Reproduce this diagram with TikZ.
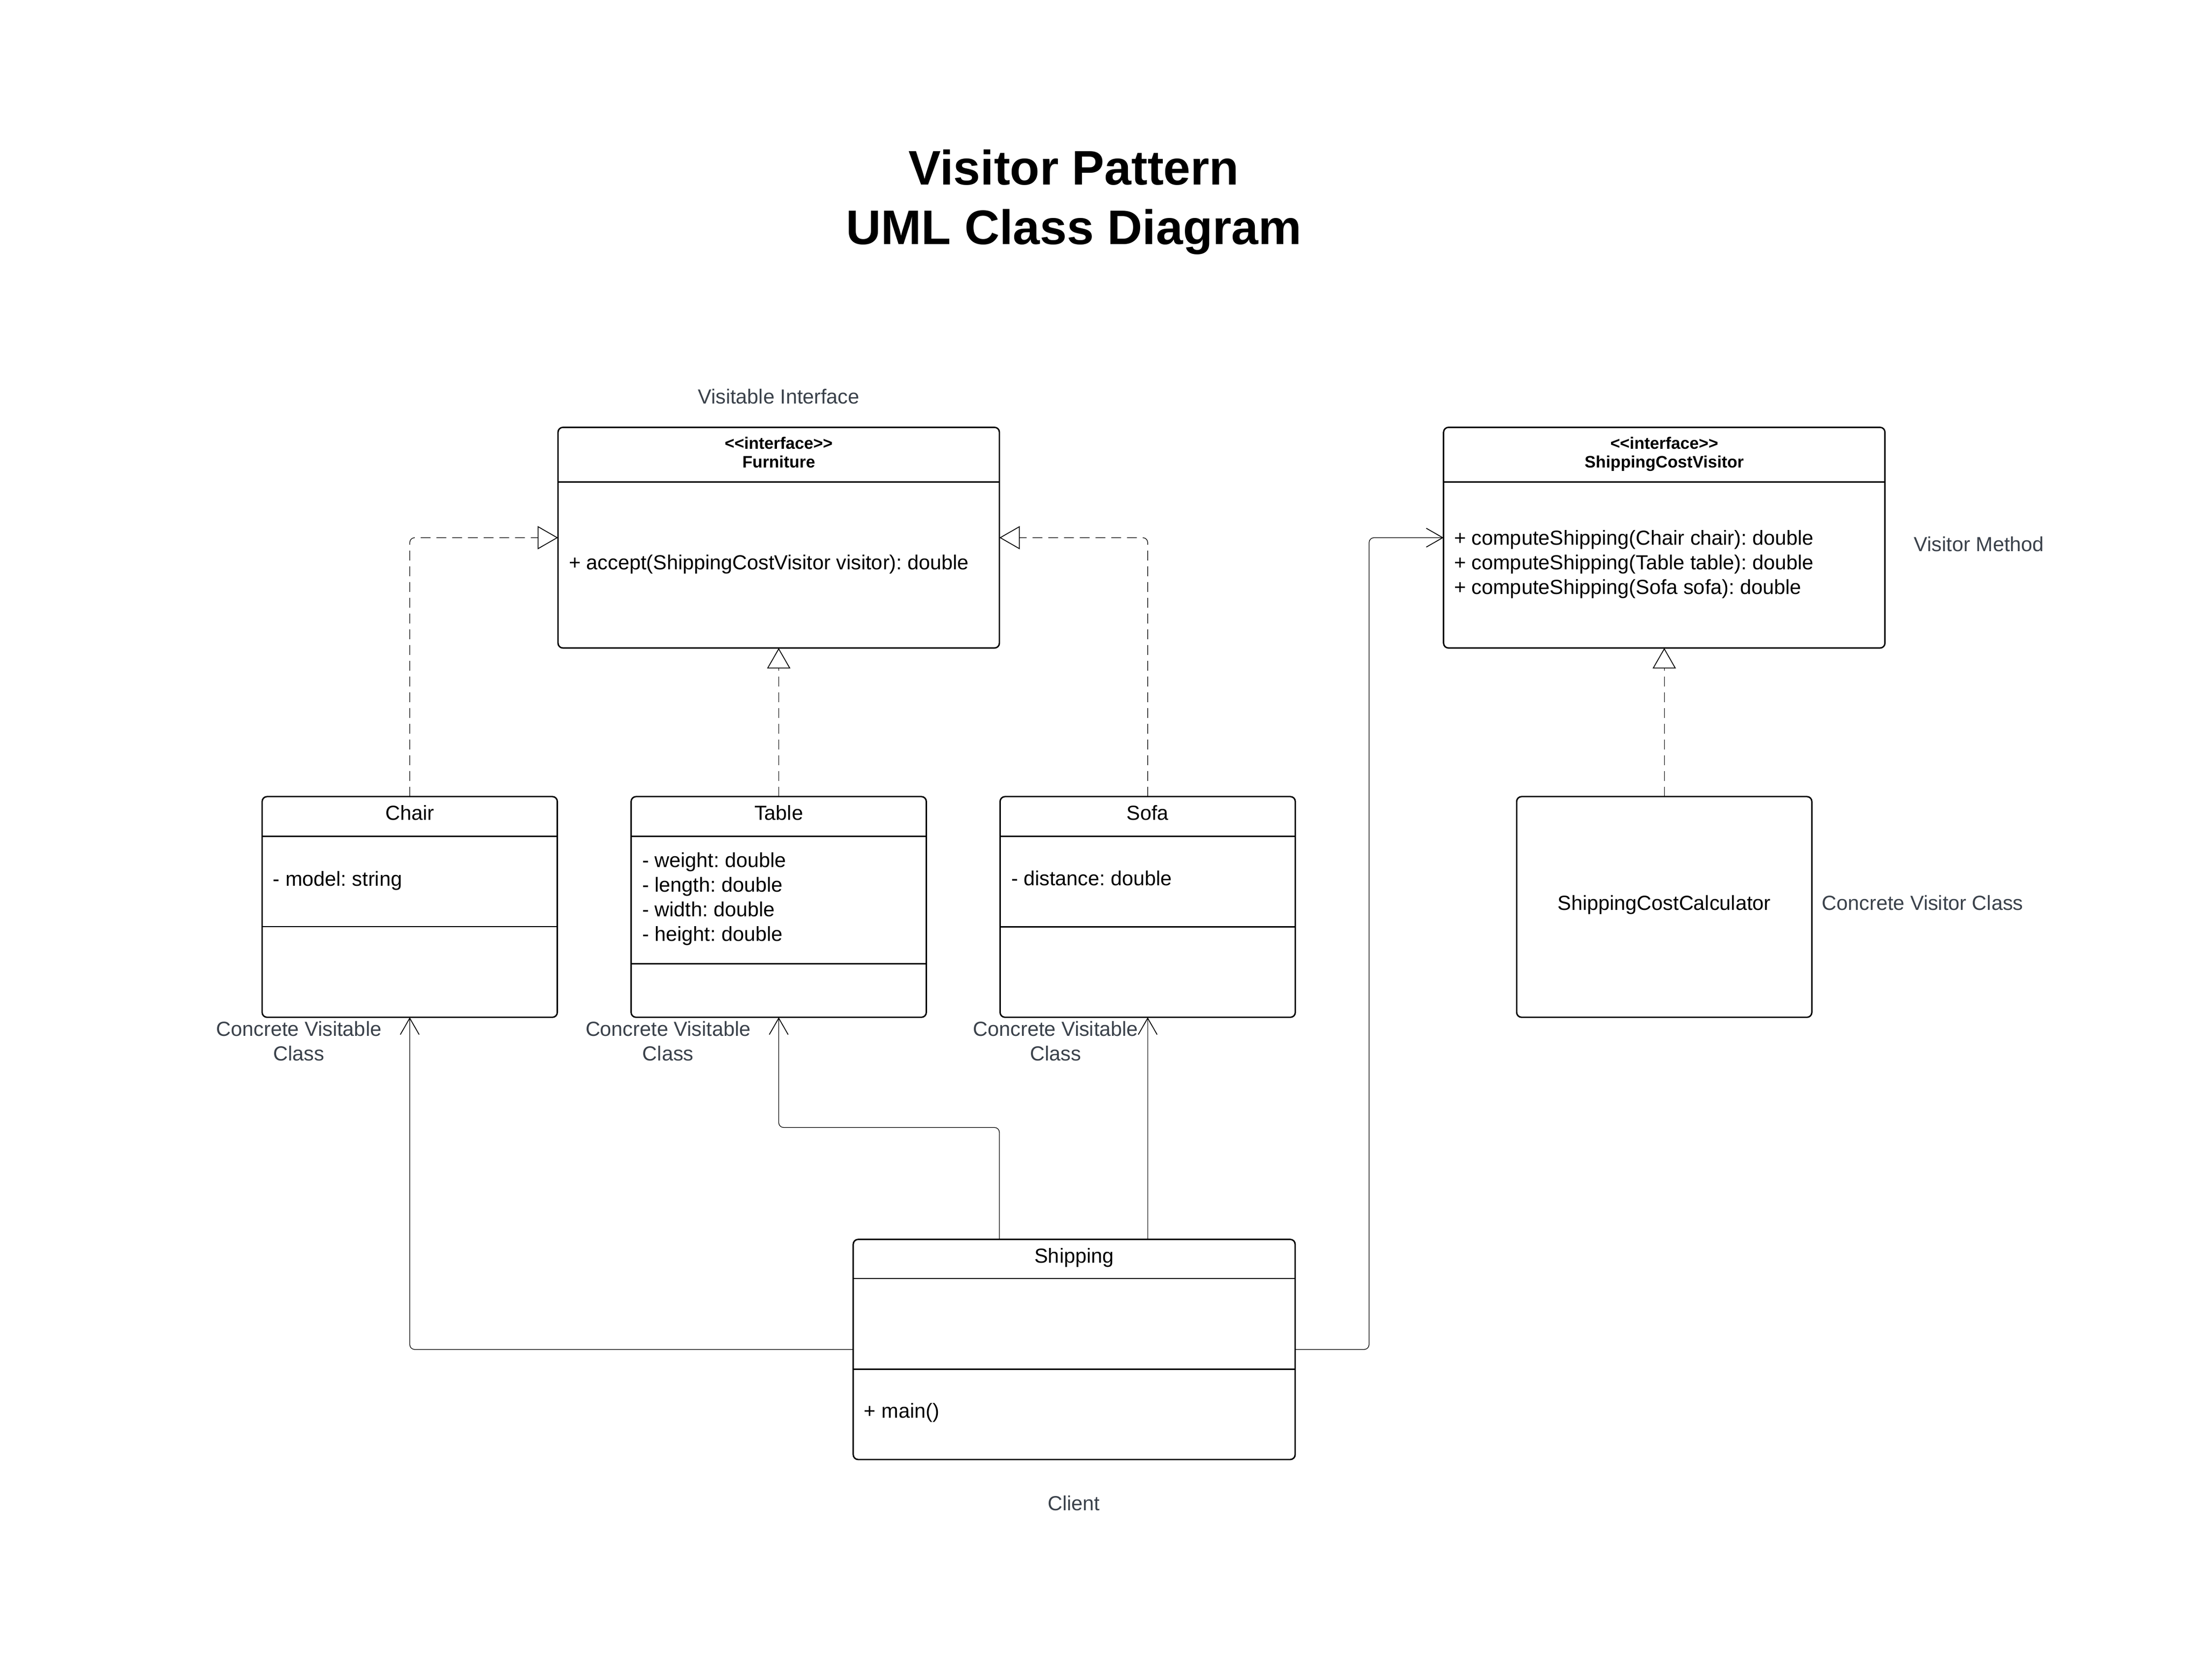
\documentclass[tikz,border=0pt]{standalone}
\usepackage{fontspec}
\setmainfont{Liberation Sans}
\usetikzlibrary{arrows.meta}
\definecolor{lblgray}{RGB}{58,65,74}
\frenchspacing
\begin{document}
\frenchspacing
\begin{tikzpicture}[x=1pt,y=-1pt,
  umlbox/.style={draw=black, line width=1pt, rounded corners=3.5pt, inner sep=0pt, outer sep=0pt, anchor=north west, fill=white},
  divider/.style={draw=black, line width=1pt},
  body/.style={font=\fontsize{14.5}{17.5}\selectfont, inner sep=0pt, text=black, yshift=0.7pt},
  hdr/.style={font=\bfseries\fontsize{11.8}{14}\selectfont, inner sep=0pt, text=black, yshift=0.5pt},
  lbl/.style={font=\fontsize{14.5}{17.5}\selectfont, inner sep=0pt, text=lblgray, yshift=0.7pt},
  ttl/.style={font=\bfseries\fontsize{34.5}{41}\selectfont, inner sep=0pt, text=black},
  conn/.style={draw=black, line width=0.45pt, rounded corners=3.5pt},
  realize/.style={conn, dash pattern=on 7pt off 4.2pt, -{Triangle[open, length=14.5pt, width=16.5pt, line width=0.6pt]}},
  assoc/.style={conn, -{Straight Barb[length=11.7pt, width=13.4pt, line width=0.6pt]}}
]
% page
\path[fill=white] (0,0) rectangle (1568,1195);
\useasboundingbox (0,0) rectangle (1568,1195);

% title
\node[ttl, anchor=base] (t1) at (764,131.5) {Visitor Pattern};
\node[ttl, anchor=base] (t2) at (764,173.8) {UML Class Diagram};

% Furniture interface
\node[umlbox, minimum width=314pt, minimum height=157pt] (furn) at (397,304) {};
\draw[divider] (397,343) -- (711,343);
\node[hdr, anchor=base] (furnst) at (554,319.9) {<\kern0pt<interface>\kern0pt>};
\node[hdr, anchor=base] (furnnm) at (554,333.4) {Furniture};
\node[body, anchor=base west] (furnm) at (404.5,405.8) {+ accept(ShippingCostVisitor visitor): double};
\node[lbl, anchor=base] (furnlbl) at (554,287.9) {Visitable Interface};

% ShippingCostVisitor interface
\node[umlbox, minimum width=314pt, minimum height=157pt] (scv) at (1027,304) {};
\draw[divider] (1027,343) -- (1341,343);
\node[hdr, anchor=base] (scvst) at (1184,319.9) {<\kern0pt<interface>\kern0pt>};
\node[hdr, anchor=base] (scvnm) at (1184,333.4) {ShippingCostVisitor};
\node[body, anchor=base west] (scvm1) at (1034.3,388.3) {+ computeShipping(Chair chair): double};
\node[body, anchor=base west] (scvm2) at (1034.3,405.8) {+ computeShipping(Table table): double};
\node[body, anchor=base west] (scvm3) at (1034.3,423.3) {+ computeShipping(Sofa sofa): double};
\node[lbl, anchor=base west] (scvlbl) at (1361.5,393) {Visitor Method};

% Chair
\node[umlbox, minimum width=210pt, minimum height=157pt] (chair) at (186.5,566.7) {};
\draw[divider] (186.5,594.8) -- (396.5,594.8);
\draw[divider] (186.5,659.2) -- (396.5,659.2);
\node[body, anchor=base] (chairnm) at (291.5,584.1) {Chair};
\node[body, anchor=base west] (chaira) at (194,631) {- model: string};
\node[lbl, anchor=base] (chairl1) at (212.7,737.8) {Concrete Visitable};
\node[lbl, anchor=base] (chairl2) at (212.7,755.2) {Class};

% Table
\node[umlbox, minimum width=210pt, minimum height=157pt] (table) at (449,566.7) {};
\draw[divider] (449,594.8) -- (659,594.8);
\draw[divider] (449,685.5) -- (659,685.5);
\node[body, anchor=base] (tablenm) at (554,584.1) {Table};
\node[body, anchor=base west] (tablea1) at (456.7,617.7) {- weight: double};
\node[body, anchor=base west] (tablea2) at (456.7,635.2) {- length: double};
\node[body, anchor=base west] (tablea3) at (456.7,652.6) {- width: double};
\node[body, anchor=base west] (tablea4) at (456.7,670.1) {- height: double};
\node[lbl, anchor=base] (tablel1) at (475.3,737.8) {Concrete Visitable};
\node[lbl, anchor=base] (tablel2) at (475.3,755.2) {Class};

% Sofa
\node[umlbox, minimum width=210pt, minimum height=157pt] (sofa) at (711.5,566.7) {};
\draw[divider] (711.5,594.8) -- (921.5,594.8);
\draw[divider] (711.5,659.3) -- (921.5,659.3);
\node[body, anchor=base] (sofanm) at (816.5,584.1) {Sofa};
\node[body, anchor=base west] (sofaa) at (719.2,630.8) {- distance: double};
\node[lbl, anchor=base] (sofal1) at (751,737.8) {Concrete Visitable};
\node[lbl, anchor=base] (sofal2) at (751,755.2) {Class};

% ShippingCostCalculator
\node[umlbox, minimum width=210pt, minimum height=157pt] (scc) at (1079,566.7) {};
\node[body, anchor=base] (sccnm) at (1184,648) {ShippingCostCalculator};
\node[lbl, anchor=base west] (scclbl) at (1296,648) {Concrete Visitor Class};

% Shipping (client)
\node[umlbox, minimum width=314.4pt, minimum height=156.6pt] (ship) at (607,881.7) {};
\draw[divider] (607,909.5) -- (921.4,909.5);
\draw[divider] (607,974) -- (921.4,974);
\node[body, anchor=base] (shipnm) at (764.2,899.2) {Shipping};
\node[body, anchor=base west] (shipm) at (614.5,1009.6) {+ main()};
\node[lbl, anchor=base] (shiplbl) at (764,1075.2) {Client};

% realization connectors
\draw[realize] (chair.north) |- (furn.west);
\draw[realize] (sofa.north) |- (furn.east);
\draw[realize] (table.north) -- (table.north |- furn.south);
\draw[realize] (scc.north) -- (scv.south);

% association connectors
\coordinate (shipT) at (711,881.7);
\coordinate (tbend) at (711,802.1);
\coordinate (rbend) at (974,960);
\draw[assoc] (ship.west) -| (chair.south);
\draw[assoc] (shipT) -- (tbend) -| (table.south);
\draw[assoc] (ship.north -| sofa.south) -- (sofa.south);
\draw[assoc] (ship.east) -- (rbend) |- (scv.west);
\end{tikzpicture}
\end{document}
